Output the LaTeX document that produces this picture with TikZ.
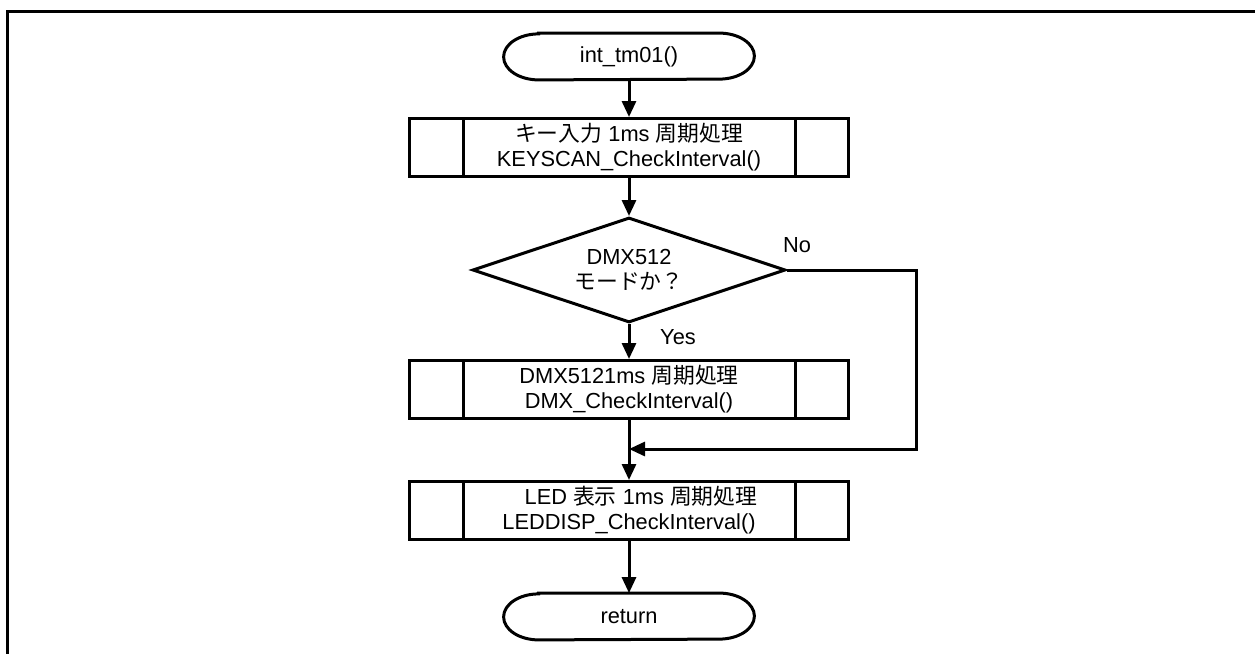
\documentclass[tikz,border=0pt]{standalone}
\usepackage{fontspec}
\setmainfont{Liberation Sans}
\newfontfamily\jp{Noto Sans CJK JP}
\usetikzlibrary{shapes.geometric,arrows.meta}

% stadium outline with elliptical ends around a node
\newcommand{\stadium}[1]{%
  \draw[line] ([xshift=17.5pt]#1.north west) -- ([xshift=-17.5pt]#1.north east)
    arc[start angle=90,end angle=-90,x radius=17.5pt,y radius=11.5pt]
    -- ([xshift=17.5pt]#1.south west)
    arc[start angle=270,end angle=90,x radius=17.5pt,y radius=11.5pt] -- cycle;}

\begin{document}
\begin{tikzpicture}[x=0.5pt,y=-0.5pt,
  every node/.style={font=\fontsize{10.9pt}{12.5pt}\selectfont, align=center},
  line/.style={line width=1.5pt},
  flow/.style={line, -{Triangle[length=8pt,width=7pt]}},
  terminal/.style={minimum width=125pt, minimum height=23pt, inner sep=0pt},
  procbox/.style={draw, line width=1.5pt, minimum width=219.5pt, minimum height=29pt, inner sep=0pt},
  decision/.style={draw, diamond, aspect=3, line width=1.5pt, minimum width=156.5pt, minimum height=52.5pt, inner sep=0pt}
]
\useasboundingbox (0,0) rectangle (1255,654);

% page frame
\draw[line] (7,654) -- (7,11) -- (1255,11);

% nodes
\node[terminal] (start) at (629,56.5) {int\_tm01()};
\node[procbox] (b1) at (629,147.5) {{\jp キー入力} 1ms {\jp 周期処理}\\KEYSCAN\_CheckInterval()};
\node[decision] (dec) at (629,270) {DMX512\\{\jp モードか？}};
\node[procbox] (b2) at (629,389.5) {DMX5121ms {\jp 周期処理}\\DMX\_CheckInterval()};
\node[procbox] (b3) at (629,510.5) {\hspace*{12pt}LED {\jp 表示} 1ms {\jp 周期処理}\\LEDDISP\_CheckInterval()};
\node[terminal] (ret) at (629,616.5) {return};

\stadium{start}
\stadium{ret}

% predefined-process side bars
\foreach \b in {b1,b2,b3}{
  \draw[line] ([xshift=27.5pt]\b.north west) -- ([xshift=27.5pt]\b.south west);
  \draw[line] ([xshift=-27.5pt]\b.north east) -- ([xshift=-27.5pt]\b.south east);
}

% branch labels
\node (yes) at (678,337) {Yes};
\node (no) at (797,245) {No};

% connectors
\coordinate (turn) at (916,270);
\coordinate (merge) at (629,449);
\draw[flow] (start.south) -- (b1.north);
\draw[flow] (b1.south) -- (dec.north);
\draw[flow] (dec.south) -- (b2.north);
\draw[flow] (b2.south) -- (b3.north);
\draw[flow] (dec.east) -- (turn) |- (merge);
\draw[flow] (b3.south) -- (ret.north);
\end{tikzpicture}
\end{document}
